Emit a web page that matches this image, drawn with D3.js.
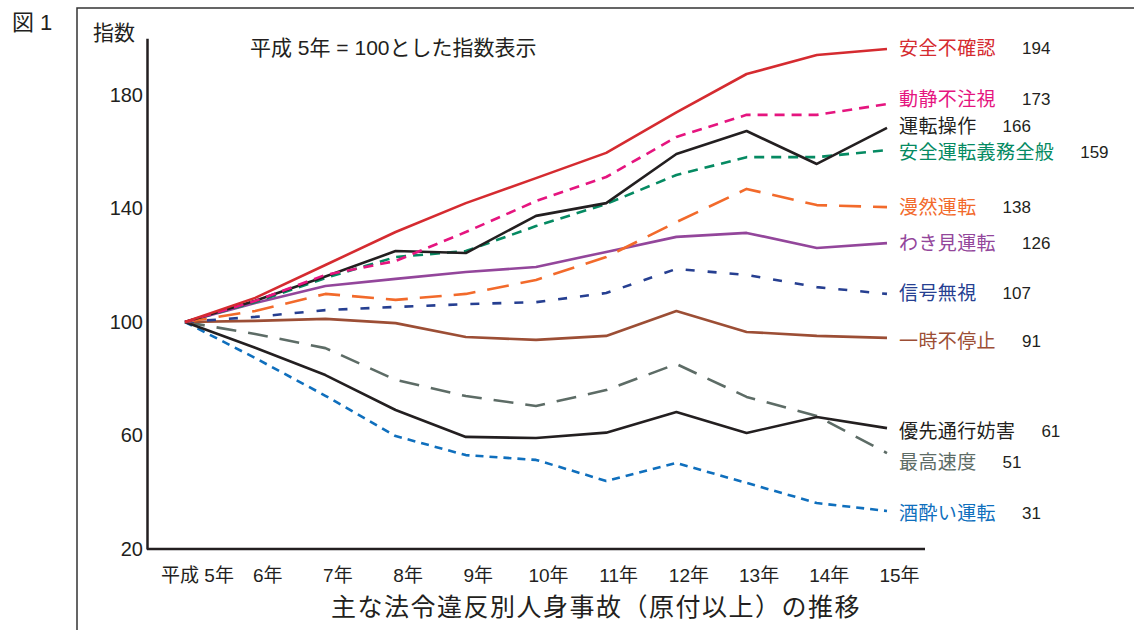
<!DOCTYPE html>
<html><head><meta charset="utf-8">
<script src="https://cdn.jsdelivr.net/npm/d3@7/dist/d3.min.js"></script>
<style>
body{margin:0;background:#fff}
text{font-family:"Liberation Sans","Noto Sans CJK JP",Arial,sans-serif;fill:#231f20}
</style>
</head><body>
<svg id="chart" width="1134" height="630"></svg>
<script>
// ---------- data ----------
const years = ["平成 5年","6年","7年","8年","9年","10年","11年","12年","13年","14年","15年"];
const yTicks = [20, 60, 100, 140, 180];

const seriesNames = ["安全不確認","動静不注視","運転操作","安全運転義務全般","漫然運転","わき見運転","信号無視","一時不停止","優先通行妨害","最高速度","酒酔い運転"];
const endValues   = [194, 173, 166, 159, 138, 126, 107, 91, 61, 51, 31];

const anzenFukakunin  = [100, 108.5, 120.1, 131.7, 141.9, 150.7, 159.6, 173.9, 187.4, 194.1, 196.2];
const dosei           = [100, 107.4, 116.6, 121.5, 131.7, 142.6, 151.1, 165.2, 173.0, 173.0, 176.8];
const untenSosa       = [100, 107.5, 116.0, 125.0, 124.3, 137.4, 141.9, 159.2, 167.3, 155.7, 168.4];
const anzenGimu       = [100, 107.0, 115.5, 122.9, 125.0, 133.8, 141.6, 151.8, 158.1, 158.1, 160.6];
const manzen          = [100, 103.9, 109.9, 107.8, 109.9, 114.8, 122.9, 135.2, 146.9, 141.2, 140.5];
const wakimi          = [100, 106.7, 112.7, 115.2, 117.6, 119.4, 124.7, 130.0, 131.4, 126.1, 127.8];
const shingoMushi     = [100, 101.8, 104.2, 105.3, 106.3, 107.0, 110.2, 118.7, 116.6, 112.3, 109.9];
const ichijiFuteishi  = [100, 100.4, 101.1, 99.6, 94.7, 93.7, 95.1, 103.9, 96.5, 95.1, 94.4];
const yusenBogai      = [100, 90.9, 81.3, 69.0, 59.5, 59.1, 61.0, 68.3, 60.9, 66.5, 62.6];
const saikoSokudo     = [100, 95.8, 90.8, 79.6, 73.9, 70.4, 76.0, 85.2, 73.6, 66.9, 53.8];
const sakeyoi         = [100, 87.3, 74.0, 59.8, 53.1, 51.4, 44.0, 50.3, 43.3, 36.2, 33.4];

const allValues = [anzenFukakunin, dosei, untenSosa, anzenGimu, manzen, wakimi, shingoMushi, ichijiFuteishi, yusenBogai, saikoSokudo, sakeyoi];

// ---------- styles ----------
const colors = ["#d52b30","#e5157f","#231f20","#058a62","#f26a2b","#93469b","#263f91","#9c4e35","#231f20","#5d6c66","#0f6fbd"];
const dashes = [null,"10,7",null,"10,7","22,12",null,"9,13",null,null,"20,12","8,6"];
const labelDy = [-1,-5,-2,2,0,0,-1,3,3,9,2];

const series = seriesNames.map((n,i)=>({name:n, values:allValues[i], end:endValues[i], color:colors[i], dash:dashes[i], dy:labelDy[i]}));

// ---------- chart ----------
const svg = d3.select("#chart");
svg.append("rect").attr("width",1134).attr("height",630).attr("fill","#fff");

const x = d3.scalePoint().domain(years).range([185, 887]);
const y = d3.scaleLinear().domain([20, 200]).range([549, 38.25]);

// frame
svg.append("path").attr("d","M77,630V8H1134").attr("fill","none").attr("stroke","#333").attr("stroke-width",1.5);

// y axis
const yAxis = svg.append("g").attr("transform","translate(147,0)")
  .call(d3.axisLeft(y).tickValues(yTicks).tickSize(0).tickPadding(4).tickFormat(d3.format("d")));
yAxis.select(".domain").attr("stroke","#231f20").attr("stroke-width",2.5);
yAxis.selectAll("text").style("font-size","20px").attr("fill","#231f20");

// x axis
svg.append("line").attr("x1",147).attr("x2",925).attr("y1",y(20)).attr("y2",y(20))
  .attr("stroke","#231f20").attr("stroke-width",2.5);
const xAxis = svg.append("g").attr("transform",`translate(12,${y(20)})`)
  .call(d3.axisBottom(x).tickSize(0).tickPadding(20));
xAxis.select(".domain").remove();
xAxis.selectAll("text").style("font-size","19px").attr("fill","#231f20");

// lines
const line = d3.line().x((d,i)=>x(years[i])).y(d=>y(d));
svg.append("g").selectAll("path").data(series.slice().reverse()).join("path")
  .attr("d",d=>line(d.values))
  .attr("fill","none")
  .attr("stroke",d=>d.color)
  .attr("stroke-width",2.6)
  .attr("stroke-dasharray",d=>d.dash)
  .attr("stroke-linejoin","round");

// end labels
const lg = svg.append("g");
series.forEach(s=>{
  const ly = y(s.values[s.values.length-1]) + s.dy;
  const t = lg.append("text").attr("x",899).attr("y",ly).attr("dy","0.36em")
    .style("font-family","'Noto Sans CJK JP',sans-serif").style("font-size","19px")
    .style("letter-spacing","0.4px")
    .style("fill",s.color).text(s.name);
  const w = t.node().getComputedTextLength();
  lg.append("text").attr("x",899+w+26).attr("y",ly).attr("dy","0.36em")
    .style("font-size","17px").text(s.end);
});

// texts
svg.append("text").attr("x",12).attr("y",30).style("font-size","22px").text("図 1");
svg.append("text").attr("x",93).attr("y",40).style("font-size","21px").text("指数");
svg.append("text").attr("x",250).attr("y",55).style("font-size","21px").text("平成 5年 = 100とした指数表示");
svg.append("text").attr("x",596).attr("y",616).attr("text-anchor","middle")
  .style("font-size","25px").style("letter-spacing","1.5px").text("主な法令違反別人身事故（原付以上）の推移");
</script>
</body></html>
